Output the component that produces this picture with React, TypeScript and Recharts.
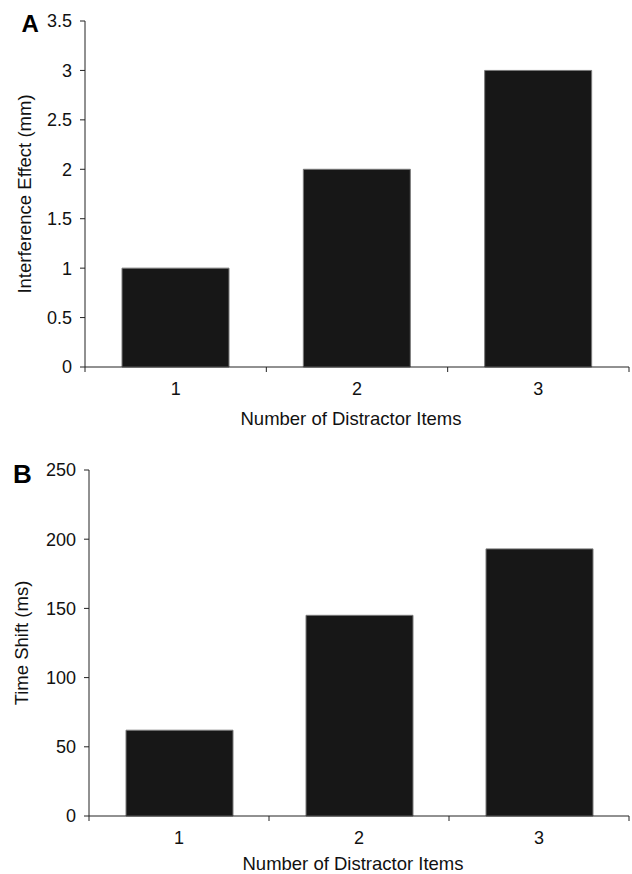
import React from "react";
import { BarChart, Bar, XAxis, YAxis } from "recharts";

const CATEGORIES = ["1", "2", "3"];
const EFFECT_MM = [1, 2, 3];
const TIME_SHIFT_MS = [62, 145, 193];
const EFFECT_TICKS = [0, 0.5, 1, 1.5, 2, 2.5, 3, 3.5];
const TIME_TICKS = [0, 50, 100, 150, 200, 250];
const X_LABEL = "Number of Distractor Items";
const Y_LABEL_A = "Interference Effect (mm)";
const Y_LABEL_B = "Time Shift (ms)";

const FONT = "'Liberation Sans', Arial, Helvetica, sans-serif";
const AXIS_COLOR = "#222";
const LABEL_SIZE = 18.5;

const buildData = (values: number[]) =>
  CATEGORIES.map((c, i) => ({ category: c, pos: i + 0.5, value: values[i] }));

// boundaries (integers) get tick marks, centres (halves) get category labels
const X_POSITIONS: number[] = [];
CATEGORIES.forEach((_, i) => {
  X_POSITIONS.push(i, i + 0.5);
});
X_POSITIONS.push(CATEGORIES.length);

function EdgeTick(props: any) {
  const { x, y, payload } = props;
  const v = payload.value as number;
  if (Number.isInteger(v)) {
    return <line x1={x} y1={y} x2={x} y2={y + 5} stroke={AXIS_COLOR} strokeWidth={1} />;
  }
  return (
    <text x={x} y={y + 28} textAnchor="middle" fontSize={18} fill="#111" fontFamily={FONT}>
      {CATEGORIES[Math.floor(v)]}
    </text>
  );
}

const yLabel = (text: string, cx: number) => (props: any) => {
  const vb = props.viewBox || {};
  const cy = (vb.y || 0) + (vb.height || 0) / 2;
  return (
    <text
      x={cx}
      y={cy}
      dy="0.355em"
      transform={`rotate(-90 ${cx} ${cy})`}
      textAnchor="middle"
      fontSize={LABEL_SIZE}
      fill="#111"
      fontFamily={FONT}
    >
      {text}
    </text>
  );
};

const xLabel = (offsetBottom: number) => (props: any) => {
  const vb = props.viewBox || {};
  const cx = (vb.x || 0) + (vb.width || 0) / 2;
  const by = (vb.y || 0) + (vb.height || 0) - offsetBottom;
  return (
    <text x={cx - 6} y={by} textAnchor="middle" fontSize={LABEL_SIZE} fill="#111" fontFamily={FONT}>
      {X_LABEL}
    </text>
  );
};

function Panel(props: {
  values: number[];
  ticks: number[];
  domainMax: number;
  top: number;
  marginTop: number;
  yWidth: number;
  xHeight: number;
  yLabelText: string;
  yLabelX: number;
  xLabelOffset: number;
}) {
  const data = buildData(props.values);
  return (
    <div style={{ position: "absolute", left: 0, top: props.top }}>
      <BarChart
        width={632}
        height={437}
        data={data}
        margin={{ top: props.marginTop, right: 3, bottom: 0, left: 0 }}
      >
        <XAxis
          dataKey="pos"
          type="number"
          domain={[0, CATEGORIES.length]}
          ticks={X_POSITIONS}
          interval={0}
          tickSize={0}
          tickMargin={0}
          tickLine={false}
          tick={<EdgeTick />}
          axisLine={{ stroke: AXIS_COLOR, strokeWidth: 1 }}
          height={props.xHeight}
          label={{ content: xLabel(props.xLabelOffset) }}
        />
        <YAxis
          type="number"
          domain={[0, props.domainMax]}
          ticks={props.ticks}
          interval={0}
          width={props.yWidth}
          tickSize={5}
          tickMargin={8}
          axisLine={{ stroke: AXIS_COLOR, strokeWidth: 1 }}
          tickLine={{ stroke: AXIS_COLOR, strokeWidth: 1 }}
          tick={{ fontSize: 18, fill: "#111", fontFamily: FONT }}
          label={{ content: yLabel(props.yLabelText, props.yLabelX) }}
        />
        <Bar
          dataKey="value"
          barSize={107}
          fill="#171717"
          stroke="#7a7a7a"
          strokeWidth={1}
          isAnimationActive={false}
        />
      </BarChart>
    </div>
  );
}

export default function App() {
  return (
    <div
      style={{
        position: "absolute",
        left: 0,
        top: 0,
        width: 632,
        height: 874,
        background: "#fff",
        fontFamily: FONT,
      }}
    >
      <Panel
        values={EFFECT_MM}
        ticks={EFFECT_TICKS}
        domainMax={3.5}
        top={0}
        marginTop={21}
        yWidth={85}
        xHeight={70}
        yLabelText={Y_LABEL_A}
        yLabelX={24}
        xLabelOffset={12}
      />
      <Panel
        values={TIME_SHIFT_MS}
        ticks={TIME_TICKS}
        domainMax={250}
        top={437}
        marginTop={33}
        yWidth={89}
        xHeight={58}
        yLabelText={Y_LABEL_B}
        yLabelX={21}
        xLabelOffset={4}
      />
      <svg
        width={632}
        height={874}
        style={{ position: "absolute", left: 0, top: 0, pointerEvents: "none" }}
      >
        <text x={21.5} y={32.3} fontSize={24} fontWeight="bold" fill="#000" fontFamily={FONT}>
          A
        </text>
        <text x={13} y={482.7} fontSize={26} fontWeight="bold" fill="#000" fontFamily={FONT}>
          B
        </text>
      </svg>
    </div>
  );
}
